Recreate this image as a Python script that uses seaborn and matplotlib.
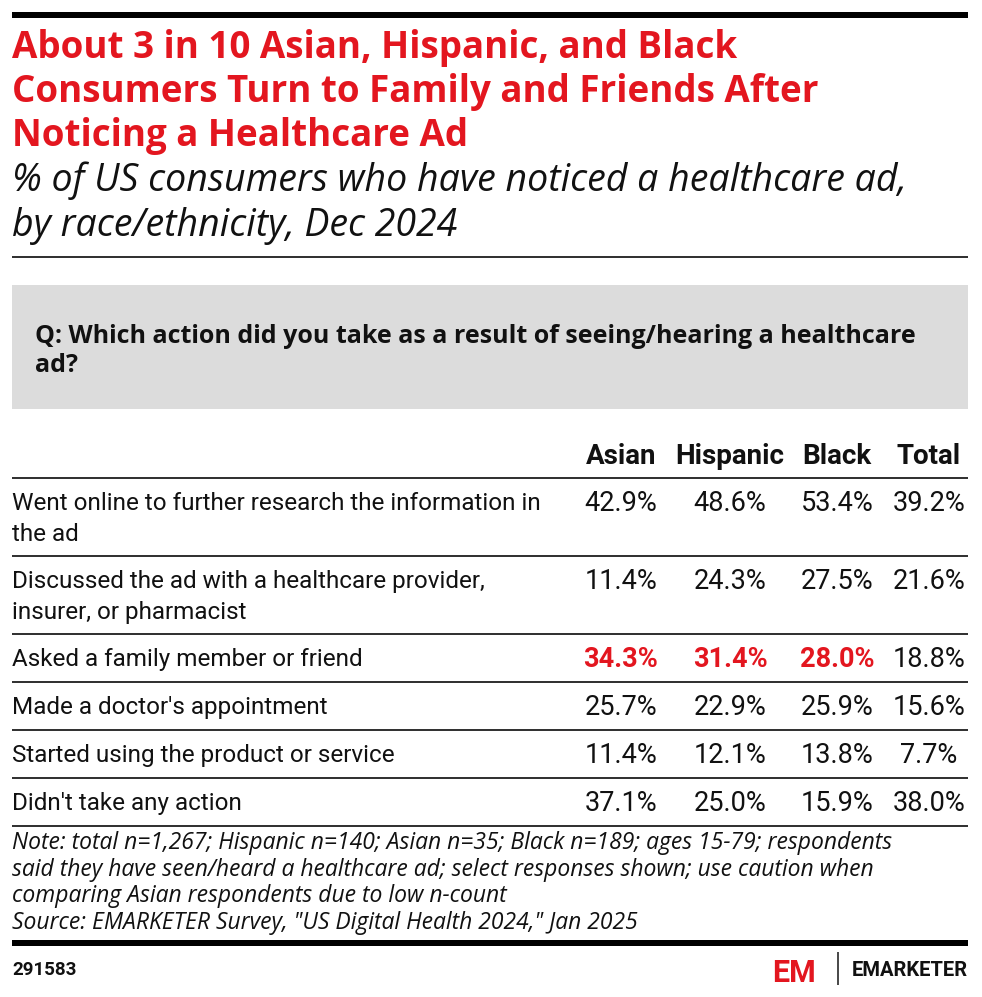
import matplotlib
matplotlib.use("Agg")
import matplotlib.pyplot as plt
import seaborn as sns
from matplotlib.patches import Rectangle

# chart text and values
title_lines = ["About 3 in 10 Asian, Hispanic, and Black",
               "Consumers Turn to Family and Friends After",
               "Noticing a Healthcare Ad"]
subtitle_lines = ["% of US consumers who have noticed a healthcare ad,",
                  "by race/ethnicity, Dec 2024"]
question_lines = ["Q: Which action did you take as a result of seeing/hearing a healthcare",
                  "ad?"]
groups = ["Asian", "Hispanic", "Black", "Total"]
actions = [["Went online to further research the information in", "the ad"],
           ["Discussed the ad with a healthcare provider,", "insurer, or pharmacist"],
           ["Asked a family member or friend"],
           ["Made a doctor's appointment"],
           ["Started using the product or service"],
           ["Didn't take any action"]]
asian = [42.9, 11.4, 34.3, 25.7, 11.4, 37.1]
hispanic = [48.6, 24.3, 31.4, 22.9, 12.1, 25.0]
black = [53.4, 27.5, 28.0, 25.9, 13.8, 15.9]
total = [39.2, 21.6, 18.8, 15.6, 7.7, 38.0]
highlight_row = "Asked a family member or friend"
highlight_groups = ["Asian", "Hispanic", "Black"]
note_lines = ["Note: total n=1,267; Hispanic n=140; Asian n=35; Black n=189; ages 15-79; respondents",
              "said they have seen/heard a healthcare ad; select responses shown; use caution when",
              "comparing Asian respondents due to low n-count",
              "Source: EMARKETER Survey, \"US Digital Health 2024,\" Jan 2025"]
chart_id = "291583"

RED = "#e3161f"
INK = "#111111"
W, H = 982, 997

sns.set_theme(style="white")
plt.rcParams["font.family"] = ["Roboto", "DejaVu Sans"]
WIDE = ["Open Sans", "DejaVu Sans"]

fig = plt.figure(figsize=(W / 100, H / 100), dpi=100)
ax = fig.add_axes([0, 0, 1, 1])
ax.set_xlim(0, W)
ax.set_ylim(H, 0)
ax.axis("off")

left, right = 12, 968
px = 72 / 100  # pixels -> points

# header block
ax.hlines(15.5, left, right, color="black", lw=6 * px)
for i, line in enumerate(title_lines):
    ax.text(left, 58 + 44 * i, line, color=RED, fontsize=26.5, fontweight="bold",
            family=WIDE, va="baseline", ha="left")
for i, line in enumerate(subtitle_lines):
    ax.text(left, 191 + 45 * i, line, color=INK, fontsize=27, style="italic",
            family=WIDE, va="baseline", ha="left")
ax.hlines(257, left, right, color="black", lw=1.6 * px)

ax.add_patch(Rectangle((left, 285), right - left, 124, color="#dcdcdc", lw=0))
for i, line in enumerate(question_lines):
    ax.text(35, 343 + 29 * i, line, color=INK, fontsize=18, fontweight="bold",
            family=WIDE, va="baseline", ha="left")

# table
col_x = [621, 730, 837, 929]
for g, cx in zip(groups, col_x):
    ax.text(cx, 464, g, fontsize=20, fontweight="bold", color=INK,
            ha="center", va="baseline")

values = {"Asian": asian, "Hispanic": hispanic, "Black": black, "Total": total}
row_top = 478
ax.hlines(row_top, left, right, color="#333333", lw=2 * px)
for r, label in enumerate(actions):
    for j, line in enumerate(label):
        ax.text(left, row_top + 32 + 31 * j, line, fontsize=17.5, color=INK,
                ha="left", va="baseline")
    for g, cx in zip(groups, col_x):
        hot = label[0] == highlight_row and g in highlight_groups
        ax.text(cx, row_top + 33, f"{values[g][r]:.1f}%", fontsize=19.5,
                color=RED if hot else INK, fontweight="bold" if hot else "normal",
                ha="center", va="baseline")
    row_top += 48 + 30 * (len(label) - 1)
    ax.hlines(row_top, left, right, color="#333333", lw=2 * px)

# footer
for i, line in enumerate(note_lines):
    ax.text(left, 849 + 26.5 * i, line, fontsize=16.5, style="italic", color=INK,
            family=WIDE, va="baseline", ha="left")
ax.hlines(943, left, right, color="black", lw=6 * px)
ax.text(left, 975, chart_id, fontsize=13.5, fontweight="bold", color=INK,
        va="baseline", ha="left")
ax.text(794, 982, "EM", fontsize=22, fontweight="bold", color=RED,
        ha="center", va="baseline")
ax.vlines(838, 952, 985, color=INK, lw=1.5 * px)
ax.text(968, 976, "EMARKETER", fontsize=14.5, fontweight="bold", color=INK,
        ha="right", va="baseline")

fig.savefig("out.png", dpi=100)
